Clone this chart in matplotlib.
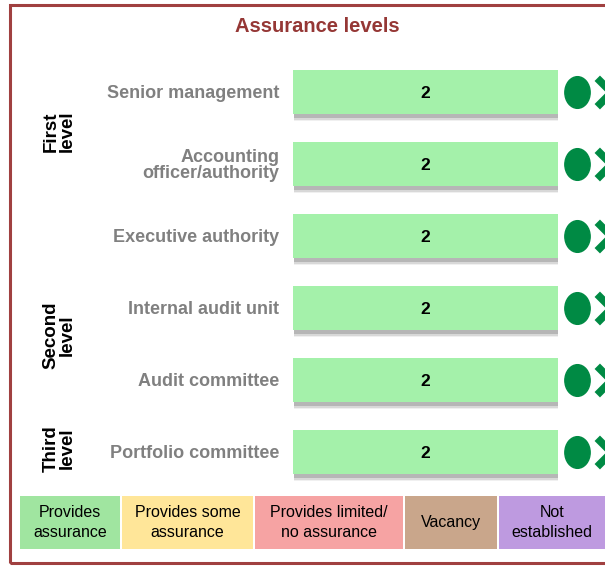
import matplotlib.pyplot as plt
import matplotlib.patheffects as pe
from matplotlib.patches import Rectangle
from matplotlib.path import Path
from matplotlib.transforms import Affine2D

# Chart data
roles = ["Senior management", "Accounting\nofficer/authority", "Executive authority",
         "Internal audit unit", "Audit committee", "Portfolio committee"]
ratings = [2, 2, 2, 2, 2, 2]
levels = ["First\nlevel", "Second\nlevel", "Third\nlevel"]
level_rows = [0.55, 3.38, 4.95]   # row each level label is centred on
legend_labels = ["Provides\nassurance", "Provides some\nassurance", "Provides limited/\nno assurance",
                 "Vacancy", "Not\nestablished"]
legend_colors = ["#A0E5A0", "#FFE699", "#F6A3A3", "#C9A68B", "#BE9AE0"]

plt.rcParams["font.family"] = ["Liberation Sans", "DejaVu Sans"]

W, H = 605, 567
fig = plt.figure(figsize=(W / 100, H / 100), dpi=100)

def px_axes(x0, y0, x1, y1):
    return fig.add_axes([x0 / W, 1 - y1 / H, (x1 - x0) / W, (y1 - y0) / H])

# frame
frame = Rectangle((10 / W, 1 - 563 / H), 620 / W, 558 / H, transform=fig.transFigure,
                  fill=False, edgecolor="#A04040", linewidth=2.2)
fig.patches.append(frame)

fig.text(317 / W, 1 - 26 / H, "Assurance levels", ha="center", va="center",
         fontsize=14.5, fontweight="bold", color="#953735")

# bars
ax = px_axes(293, 56, 558, 488)
n = len(roles)
ypos = list(range(n))
bars = ax.barh(ypos, [1] * n, height=0.62, left=0, color="#A4F1AA",
               edgecolor="none")
for b in bars:
    b.set_path_effects([pe.SimplePatchShadow(offset=(1, -5), shadow_rgbFace="#e6e6e6", alpha=0.6),
                        pe.SimplePatchShadow(offset=(1, -4), shadow_rgbFace="#c8c8c8", alpha=0.6),
                        pe.SimplePatchShadow(offset=(1, -2.5), shadow_rgbFace="#a8a8a8", alpha=0.7),
                        pe.Normal()])
for y, r in zip(ypos, ratings):
    ax.text(0.5, y, str(r), ha="center", va="center_baseline", fontsize=12.5,
            fontweight="bold", color="black")

ax.set_xlim(0, 1)
ax.set_ylim(n - 0.5, -0.5)
ax.set_yticks(ypos)
ax.set_yticklabels(roles, fontsize=13, fontweight="bold", color="#808080", linespacing=0.95)
ax.tick_params(axis="y", length=0, pad=10)
ax.set_xticks([])
for s in ax.spines.values():
    s.set_visible(False)

# status markers to the right of each bar
oval = Path.unit_circle().transformed(Affine2D().scale(0.8, 1.0))
ax.scatter([1.072] * n, ypos, s=520, marker=oval, color="#008A44", clip_on=False, zorder=3)
ax.scatter([1.2] * n, ypos, s=420, marker="x", linewidths=5.5, color="#008A44",
           clip_on=False, zorder=3)

# level labels
for lab, yc in zip(levels, level_rows):
    ax.annotate(lab, xy=(0, yc), xycoords=("axes fraction", "data"), xytext=(-234, 0),
                textcoords="offset pixels", rotation=90, ha="center", va="center",
                fontsize=13.5, fontweight="bold", color="black", linespacing=0.95)

# legend strip
lax = px_axes(20, 496, 607, 549)
box_w = [102, 133, 150, 94, 108]
left = 0
for lab, col, w in zip(legend_labels, legend_colors, box_w):
    lax.barh(0, w - 2, left=left, height=1, color=col, edgecolor="none")
    lax.text(left + (w - 2) / 2, 0, lab, ha="center", va="center", fontsize=11.5,
             color="black", linespacing=1.4)
    left += w
lax.set_xlim(0, 587)
lax.set_ylim(-0.5, 0.5)
lax.axis("off")

fig.savefig("out.png", dpi=100)
